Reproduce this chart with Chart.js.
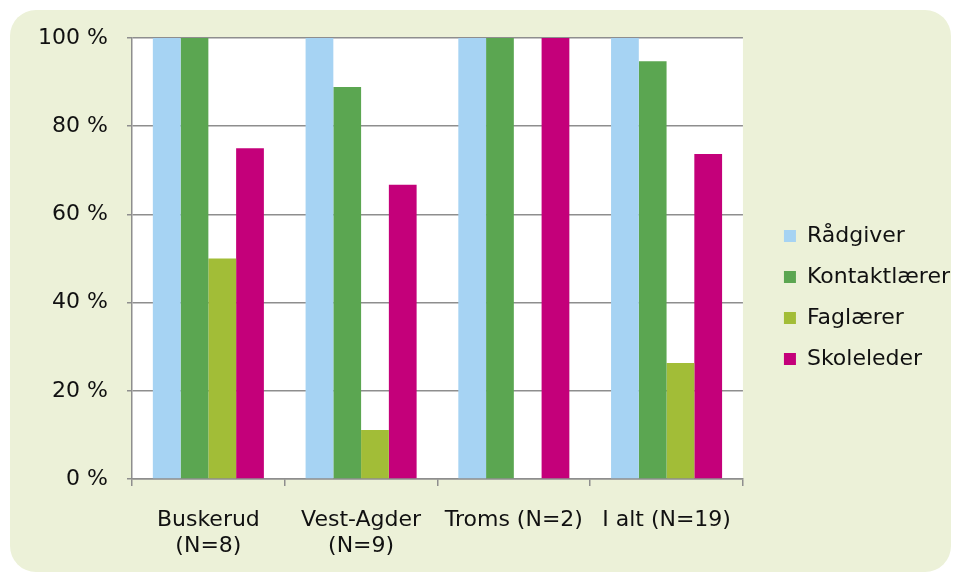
<html lang="no">
  <head>
    <meta charset="UTF-8" />
    <script src="https://cdn.jsdelivr.net/npm/chart.js"></script>
    <title>Andel etter rolle</title>
    <style>
      body { margin: 0; background: #ffffff; }
      #wrap { width: 956px; height: 573px; }
    </style>
  </head>
  <body>
    <div id="wrap">
      <canvas id="roleChart" width="956" height="573"></canvas>
    </div>
    <script>
        // categories (x axis, two lines each)
        const regions = [
            ['Buskerud', '(N=8)'],
            ['Vest-Agder', '(N=9)'],
            'Troms (N=2)',
            'I alt (N=19)'
        ];

        // series values in percent
        const raadgiver = [100, 100, 100, 100];
        const kontaktlaerer = [100, 88.9, 100, 94.7];
        const faglaerer = [50, 11.1, 0, 26.3];
        const skoleleder = [75, 66.7, 100, 73.7];

        const seriesNames = ['Rådgiver', 'Kontaktlærer', 'Faglærer', 'Skoleleder'];
        const seriesColors = ['#a6d3f3', '#5ba651', '#a2bd37', '#c4007a'];

        const yTicks = [0, 20, 40, 60, 80, 100];

        const fontFamily = '"DejaVu Sans", Verdana, sans-serif';
        const axisGray = '#8e8e8e';

        // panel background and white plot area
        const backdrop = {
            id: 'backdrop',
            beforeDraw(chart) {
                const ctx = chart.ctx;
                const a = chart.chartArea;
                ctx.save();
                ctx.fillStyle = '#ecf1d8';
                ctx.beginPath();
                ctx.roundRect(10, 10, 941, 562, 26);
                ctx.fill();
                ctx.fillStyle = '#ffffff';
                ctx.fillRect(a.left, a.top, a.right - a.left, a.bottom - a.top);
                ctx.restore();
            }
        };

        const values = [raadgiver, kontaktlaerer, faglaerer, skoleleder];
        const datasets = values.map((data, i) => ({
            label: seriesNames[i],
            data: data,
            backgroundColor: seriesColors[i],
            borderWidth: 0,
            categoryPercentage: 0.727,
            barPercentage: 1.0
        }));

        const roleChart = new Chart(document.getElementById('roleChart'), {
            type: 'bar',
            data: { labels: regions, datasets: datasets },
            plugins: [backdrop],
            options: {
                responsive: false,
                animation: false,
                layout: { padding: { top: 38, bottom: 16, left: 0, right: -4 } },
                plugins: {
                    tooltip: { enabled: false },
                    legend: {
                        position: 'right',
                        align: 'center',
                        labels: {
                            boxWidth: 12,
                            boxHeight: 12,
                            padding: 19,
                            color: '#111111',
                            font: { family: fontFamily, size: 22 }
                        }
                    }
                },
                scales: {
                    x: {
                        afterFit(s) { s.height = 78; },
                        grid: {
                            offset: true,
                            drawOnChartArea: false,
                            tickLength: 7,
                            color: axisGray,
                            lineWidth: 1.5
                        },
                        border: { color: axisGray, width: 1.5 },
                        ticks: {
                            color: '#111111',
                            padding: 21,
                            maxRotation: 0,
                            autoSkip: false,
                            font: { family: fontFamily, size: 22, lineHeight: 1.2 }
                        }
                    },
                    y: {
                        min: 0,
                        max: 100,
                        afterFit(s) { s.width = 132; },
                        afterBuildTicks(s) { s.ticks = yTicks.map(v => ({ value: v })); },
                        grid: { color: axisGray, lineWidth: 1.5, tickLength: 5 },
                        border: { color: axisGray, width: 1.5 },
                        ticks: {
                            color: '#111111',
                            padding: 19,
                            font: { family: fontFamily, size: 22 },
                            callback: v => v + ' %'
                        }
                    },
                    // empty gap between plot and legend
                    spacer: {
                        type: 'linear',
                        position: 'right',
                        display: false,
                        afterFit(s) { s.width = 22; }
                    }
                }
            }
        });
    </script>
  </body>
</html>
